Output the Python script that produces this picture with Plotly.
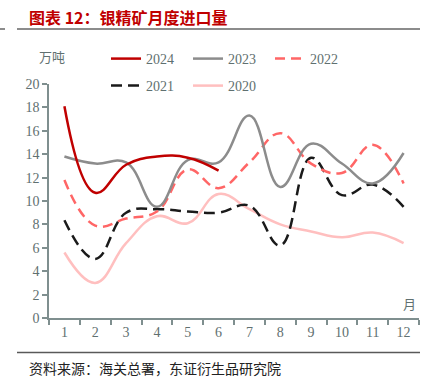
import plotly.graph_objects as go

months = [str(i) for i in range(1, 13)]
y2024 = [18.1, 10.7, 13.1, 13.8, 13.7, 12.6]
y2023 = [13.8, 13.2, 13.3, 9.5, 13.5, 13.3, 17.3, 11.2, 14.9, 13.2, 11.5, 14.1]
y2022 = [11.8, 7.9, 8.5, 9.1, 12.7, 11.1, 13.3, 15.8, 13.2, 12.4, 14.8, 11.5]
y2021 = [8.35, 5.05, 9.0, 9.3, 9.1, 9.0, 9.6, 6.2, 13.7, 10.5, 11.4, 9.5]
y2020 = [5.6, 3.0, 6.4, 8.7, 8.1, 10.6, 9.3, 8.0, 7.4, 6.9, 7.3, 6.4]
yticks = list(range(0, 21, 2))

W, H = 442, 392
L, R, T, B = 49, 23, 84, 74
PW, PH = W - L - R, H - T - B


def px(p):
    return (p - L) / PW


def py(q):
    return (H - B - q) / PH


AX = "#7f8f8f"
TXT = "#5f7070"
SERIF = "Liberation Serif, Times New Roman, serif"
CJK = "Noto Sans CJK SC"

fig = go.Figure()
series = [
    ("2024", y2024, "#c00000", "solid", "legend"),
    ("2023", y2023, "#8c8c8c", "solid", "legend"),
    ("2022", y2022, "#ff6666", "10px,6px", "legend"),
    ("2021", y2021, "#1a1a1a", "11px,6px", "legend2"),
    ("2020", y2020, "#ffbfbf", "solid", "legend2"),
]
for name, ys, col, dash, lg in reversed(series):
    fig.add_trace(go.Scatter(
        x=months[:len(ys)], y=ys, name=name, mode="lines",
        line=dict(color=col, width=2.5, dash=dash, shape="spline", smoothing=1.2),
        legend=lg,
    ))

fig.update_layout(
    width=W, height=H,
    margin=dict(l=L, r=R, t=T, b=B, autoexpand=False),
    paper_bgcolor="white", plot_bgcolor="white",
    showlegend=True,
    legend=dict(orientation="h", x=px(106), y=py(59), xanchor="left", yanchor="middle",
                entrywidth=37, entrywidthmode="pixels", traceorder="reversed",
                font=dict(family=SERIF, size=14, color=TXT), bgcolor="rgba(0,0,0,0)"),
    legend2=dict(orientation="h", x=px(106), y=py(86), xanchor="left", yanchor="middle",
                 entrywidth=37, entrywidthmode="pixels", traceorder="reversed",
                 font=dict(family=SERIF, size=14, color=TXT), bgcolor="rgba(0,0,0,0)"),
    xaxis=dict(type="category", categoryarray=months, range=[-0.5, 11.5], automargin=False,
               showline=True, linecolor=AX, linewidth=1.5, ticks="outside",
               tickson="boundaries", ticklen=5, tickcolor=AX, tickwidth=1.5,
               showgrid=False, zeroline=False,
               tickfont=dict(family=SERIF, size=14, color=TXT)),
    yaxis=dict(range=[0, 20], tickvals=yticks, showline=True, linecolor=AX, linewidth=1.5,
               ticks="outside", ticklen=5, tickcolor=AX, tickwidth=1.5, automargin=False,
               showgrid=False, zeroline=False,
               tickfont=dict(family=SERIF, size=14, color=TXT)),
)

shapes = [
    dict(type="line", xref="paper", yref="paper", x0=px(17), x1=px(420), y0=py(29), y1=py(29),
         line=dict(color="#8c8c8c", width=2)),
    dict(type="line", xref="paper", yref="paper", x0=px(0), x1=px(5), y0=py(29), y1=py(29),
         line=dict(color="#8c8c8c", width=2)),
    dict(type="line", xref="paper", yref="paper", x0=px(17), x1=px(420), y0=py(352.5), y1=py(352.5),
         line=dict(color="#595959", width=1.5)),
]
fig.update_layout(shapes=shapes)

ann = [
    dict(text="<b>图表 12：银精矿月度进口量</b>", x=px(27), y=py(17), xanchor="left", yanchor="middle",
         font=dict(family=CJK, size=16, color="#c00000")),
    dict(text="资料来源：海关总署，东证衍生品研究院", x=px(27), y=py(368), xanchor="left", yanchor="middle",
         font=dict(family=CJK, size=14, color="#222222")),
    dict(text="万吨", x=px(37), y=py(57), xanchor="left", yanchor="middle",
         font=dict(family=CJK, size=13, color=TXT)),
    dict(text="月", x=px(401), y=py(303), xanchor="left", yanchor="middle",
         font=dict(family=CJK, size=13, color=TXT)),
]
for a in ann:
    a.update(xref="paper", yref="paper", showarrow=False)
fig.update_layout(annotations=ann)

fig.write_html("out.html", config={"displayModeBar": False},
               post_script="document.body.style.margin='0';document.body.style.overflow='hidden';")
